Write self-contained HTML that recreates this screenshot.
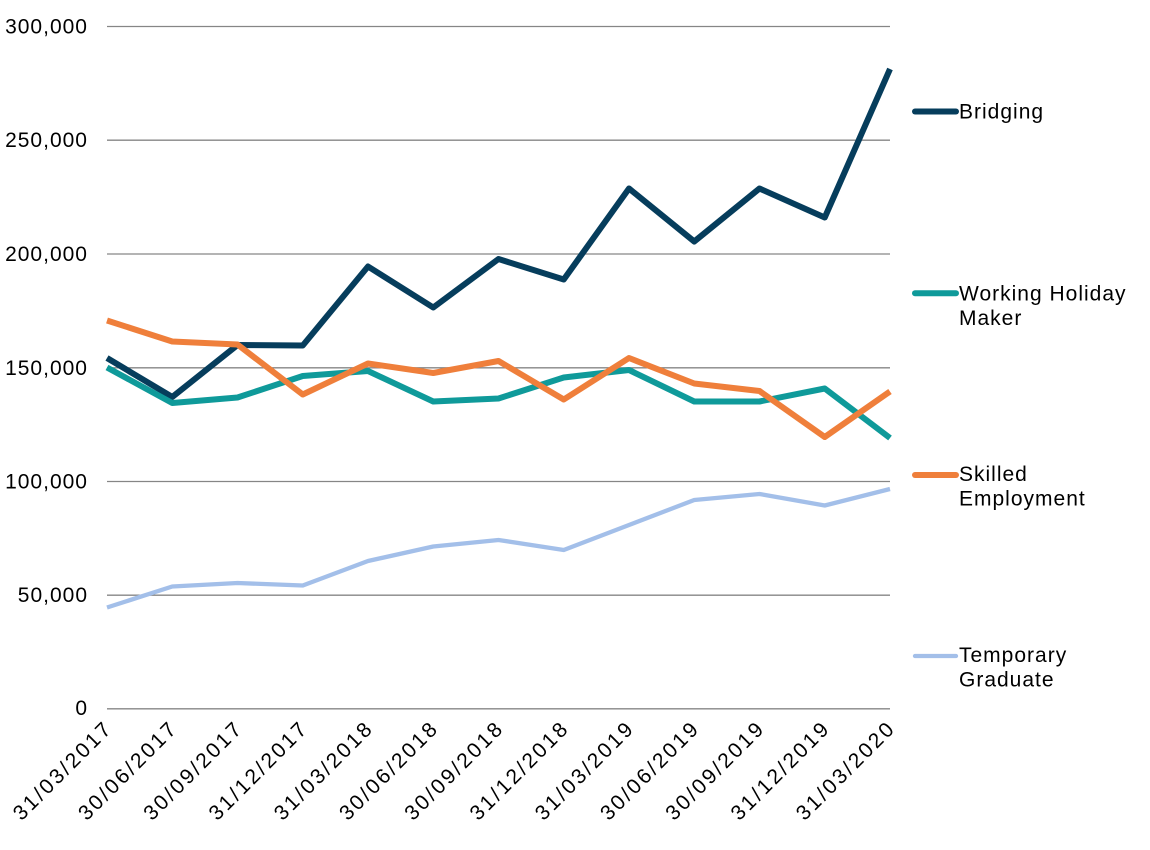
<!DOCTYPE html>
<html>
<head>
<meta charset="utf-8">
<style>
  html, body { margin: 0; padding: 0; background: #ffffff; }
  body { width: 1150px; height: 850px; overflow: hidden; }
  svg { display: block; font-family: "Liberation Sans", "DejaVu Sans", sans-serif; }
  .yl { font-size: 21px; fill: #000; letter-spacing: 1px; }
  .xl { font-size: 21px; fill: #000; }
  .lg { font-size: 21px; fill: #000; letter-spacing: 1px; }
</style>
</head>
<body>
<svg width="1150" height="850" viewBox="0 0 1150 850" xmlns="http://www.w3.org/2000/svg">
  <!-- gridlines -->
  <g stroke="#868686" stroke-width="1.3">
    <line x1="107" y1="26.5" x2="890" y2="26.5"/>
    <line x1="107" y1="140.2" x2="890" y2="140.2"/>
    <line x1="107" y1="254" x2="890" y2="254"/>
    <line x1="107" y1="367.8" x2="890" y2="367.8"/>
    <line x1="107" y1="481.5" x2="890" y2="481.5"/>
    <line x1="107" y1="595.2" x2="890" y2="595.2"/>
    <line x1="107" y1="708.8" x2="890" y2="708.8"/>
  </g>

  <!-- y labels -->
  <g class="yl" text-anchor="end">
    <text x="88" y="33.5">300,000</text>
    <text x="88" y="147.2">250,000</text>
    <text x="88" y="261">200,000</text>
    <text x="88" y="374.8">150,000</text>
    <text x="88" y="488.5">100,000</text>
    <text x="88" y="602.2">50,000</text>
    <text x="88" y="715">0</text>
  </g>

  <!-- x labels -->
  <g class="xl" text-anchor="end">
    <text transform="translate(112,731) rotate(-45)" textLength="128" lengthAdjust="spacing">31/03/2017</text>
    <text transform="translate(177.25,731) rotate(-45)" textLength="128" lengthAdjust="spacing">30/06/2017</text>
    <text transform="translate(242.5,731) rotate(-45)" textLength="128" lengthAdjust="spacing">30/09/2017</text>
    <text transform="translate(307.75,731) rotate(-45)" textLength="128" lengthAdjust="spacing">31/12/2017</text>
    <text transform="translate(373,731) rotate(-45)" textLength="128" lengthAdjust="spacing">31/03/2018</text>
    <text transform="translate(438.25,731) rotate(-45)" textLength="128" lengthAdjust="spacing">30/06/2018</text>
    <text transform="translate(503.5,731) rotate(-45)" textLength="128" lengthAdjust="spacing">30/09/2018</text>
    <text transform="translate(568.75,731) rotate(-45)" textLength="128" lengthAdjust="spacing">31/12/2018</text>
    <text transform="translate(634,731) rotate(-45)" textLength="128" lengthAdjust="spacing">31/03/2019</text>
    <text transform="translate(699.25,731) rotate(-45)" textLength="128" lengthAdjust="spacing">30/06/2019</text>
    <text transform="translate(764.5,731) rotate(-45)" textLength="128" lengthAdjust="spacing">30/09/2019</text>
    <text transform="translate(829.75,731) rotate(-45)" textLength="128" lengthAdjust="spacing">31/12/2019</text>
    <text transform="translate(895,731) rotate(-45)" textLength="128" lengthAdjust="spacing">31/03/2020</text>
  </g>

  <!-- series -->
  <g fill="none" stroke-linejoin="round" stroke-linecap="butt">
    <polyline stroke="#063D5C" stroke-width="6"
      points="107,358 172.25,397 237.5,345 302.75,345.5 368,266.5 433.25,307.5 498.5,259 563.75,279.5 629,188.5 694.25,241.5 759.5,188.5 824.75,217.5 890,69"/>
    <polyline stroke="#0F9A9A" stroke-width="6"
      points="107,367.5 172.25,403 237.5,397.5 302.75,376 368,371 433.25,401.5 498.5,398.5 563.75,377.5 629,370 694.25,401.5 759.5,401.5 824.75,388.5 890,438"/>
    <polyline stroke="#EF7F3B" stroke-width="6"
      points="107,320.5 172.25,341.5 237.5,344.5 302.75,394.5 368,363.5 433.25,373 498.5,361 563.75,399.5 629,358 694.25,383.5 759.5,391 824.75,437 890,391.5"/>
    <polyline stroke="#A3BFE9" stroke-width="4.3"
      points="107,607.5 172.25,586.5 237.5,583 302.75,585.5 368,561 433.25,546.5 498.5,540 563.75,550 629,525 694.25,500 759.5,494 824.75,505.5 890,489"/>
  </g>

  <!-- legend -->
  <g stroke-linecap="round">
    <line x1="915" y1="111.5" x2="956" y2="111.5" stroke="#063D5C" stroke-width="6"/>
    <line x1="915" y1="293.3" x2="956" y2="293.3" stroke="#0F9A9A" stroke-width="6"/>
    <line x1="915" y1="475" x2="956" y2="475" stroke="#EF7F3B" stroke-width="6"/>
    <line x1="915" y1="656" x2="956" y2="656" stroke="#A3BFE9" stroke-width="4.3"/>
  </g>
  <g class="lg">
    <text x="959" y="118.5">Bridging</text>
    <text x="959" y="300.5">Working Holiday</text>
    <text x="959" y="325">Maker</text>
    <text x="959" y="481">Skilled</text>
    <text x="959" y="505.5">Employment</text>
    <text x="959" y="662">Temporary</text>
    <text x="959" y="686.5">Graduate</text>
  </g>
</svg>
</body>
</html>
